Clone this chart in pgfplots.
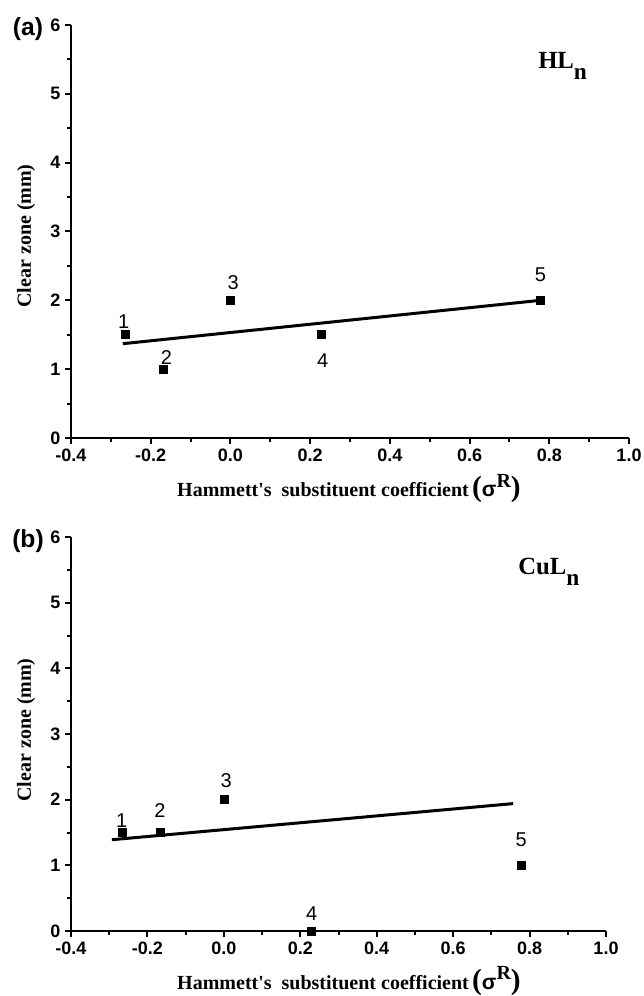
\documentclass[border=0pt]{standalone}
\usepackage{pgfplots}
\pgfplotsset{compat=1.18}
\usepackage{fontspec}
\setmainfont{Liberation Serif}
\newfontfamily\arial{Liberation Sans}

\pgfplotsset{
  myaxis/.style={
    scale only axis, clip=false, anchor=south west,
    xmin=-0.4, xmax=1.0, ymin=0, ymax=6,
    axis x line*=bottom, axis y line*=left,
    axis line style={-, line width=1.5pt},
    xtick={-0.4,-0.2,0,0.2,0.4,0.6,0.8,1.0},
    ytick={0,1,2,3,4,5,6},
    minor x tick num=1, minor y tick num=1,
    tick align=outside,
    major tick length=4.5pt, minor tick length=3pt,
    tick style={line width=1.5pt, black},
    /pgf/number format/assume math mode=true,
    ticklabel style={font=\arial\bfseries\fontsize{13.5}{15}\selectfont},
    xticklabel style={/pgf/number format/.cd, fixed, fixed zerofill, precision=1},
    yticklabel style={/pgf/number format/.cd, fixed, precision=0},
  },
}
\tikzset{ptlab/.style={font=\arial\fontsize{15}{17}\selectfont, inner sep=0pt}}

\newcommand{\xlab}{Hammett\textquotesingle s\ \ substituent coefficient\,{\fontsize{22}{22}\selectfont(}{\arial\bfseries\fontsize{16}{16}\selectfont σ}\raisebox{7pt}{R}{\fontsize{22}{22}\selectfont)}}

\begin{document}
\begin{tikzpicture}[font=\bfseries\fontsize{15}{17}\selectfont]
\path[use as bounding box] (0,0) rectangle (482.25pt,747pt);

% ---------- panel (a)
\begin{axis}[myaxis, at={(53.25pt,418.5pt)}, width=418.5pt, height=309.75pt]
\addplot[only marks, mark=square*, mark size=3pt, black] coordinates {
(-0.265,1.5) (-0.168,1.0) (0.0,2.0) (0.227,1.5) (0.778,2.0)};
\addplot[no marks, line width=2.25pt, black] coordinates {(-0.27,1.37) (0.778,2.0)};
\node[ptlab, xshift=-0.75pt, yshift=10.2pt] at (axis cs:-0.265,1.5) {1};
\node[ptlab, xshift=2.25pt, yshift=8.8pt] at (axis cs:-0.168,1.0) {2};
\node[ptlab, xshift=2pt, yshift=13.5pt] at (axis cs:0.0,2.0) {3};
\node[ptlab, xshift=1.3pt, yshift=-19.3pt] at (axis cs:0.227,1.5) {4};
\node[ptlab, yshift=19.5pt] at (axis cs:0.778,2.0) {5};
\end{axis}

% ---------- panel (b)
\begin{axis}[myaxis, at={(53.25pt,48.75pt)}, width=401.25pt, height=295.5pt]
\addplot[only marks, mark=square*, mark size=3pt, black] coordinates {
(-0.265,1.5) (-0.167,1.5) (0.0,2.0) (0.23,0.0) (0.778,1.0)};
\addplot[no marks, line width=2.25pt, black] coordinates {(-0.293,1.39) (0.757,1.94)};
\node[ptlab, xshift=-0.75pt, yshift=9.2pt] at (axis cs:-0.265,1.5) {1};
\node[ptlab, yshift=16.7pt] at (axis cs:-0.167,1.5) {2};
\node[ptlab, xshift=1.8pt, yshift=14pt] at (axis cs:0.0,2.0) {3};
\node[ptlab, yshift=12.7pt] at (axis cs:0.23,0.0) {4};
\node[ptlab, yshift=19.3pt] at (axis cs:0.778,1.0) {5};
\end{axis}

% ---------- texts
\node[font=\arial\bfseries\fontsize{18.5}{20}\selectfont, inner sep=0pt] at (21pt,725.25pt) {(a)};
\node[font=\arial\bfseries\fontsize{18.5}{20}\selectfont, inner sep=0pt] at (21pt,341.25pt) {(b)};
\node[anchor=base west, inner sep=0pt, font=\bfseries\fontsize{18.5}{20}\selectfont] at (403.5pt,695.25pt) {HL\raisebox{-8.25pt}{\fontsize{17.5}{18}\selectfont n}};
\node[anchor=base west, inner sep=0pt, font=\bfseries\fontsize{18.5}{20}\selectfont] at (388.5pt,315.75pt) {CuL\raisebox{-8.25pt}{\fontsize{17.5}{18}\selectfont n}};
\node[rotate=90, inner sep=0pt] at (19.5pt,570pt) {Clear zone (mm)};
\node[rotate=90, inner sep=0pt] at (19.5pt,199.5pt) {Clear zone (mm)};
\node[anchor=base, inner sep=0pt] at (261.75pt,374.25pt) {\xlab};
\node[anchor=base, inner sep=0pt] at (261.75pt,5.25pt) {\xlab};
\end{tikzpicture}
\end{document}
